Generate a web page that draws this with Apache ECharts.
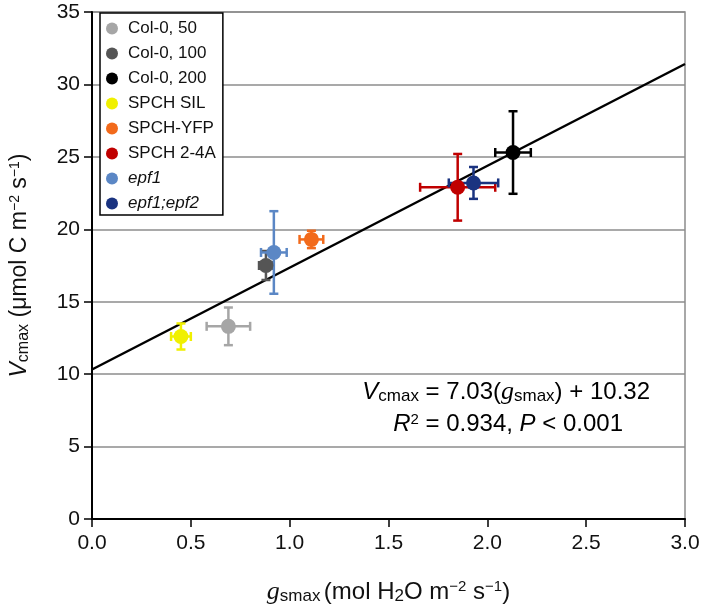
<!DOCTYPE html>
<html><head><meta charset="utf-8">
<script src="https://cdn.jsdelivr.net/npm/echarts@6/dist/echarts.min.js"></script>
<style>html,body{margin:0;padding:0;background:#fff}#c{width:709px;height:610px}</style>
</head><body><div id="c"></div>
<script>
const categories = ['Col-0, 50','Col-0, 100','Col-0, 200','SPCH SIL','SPCH-YFP','SPCH 2-4A','epf1','epf1;epf2'];
const gsmax = [0.69, 0.88, 2.13, 0.45, 1.11, 1.85, 0.92, 1.93];
const vcmax = [13.3, 17.5, 25.3, 12.6, 19.3, 22.9, 18.4, 23.2];
const gsErr = [0.11, 0.035, 0.09, 0.05, 0.06, 0.19, 0.065, 0.125];
const vcErr = [1.3, 1.0, 2.85, 0.9, 0.6, 2.3, 2.85, 1.1];
const fitSlope = 7.03;
const fitIntercept = 10.32;
const fitRange = [0, 3];
const xTicks = [0, 0.5, 1.0, 1.5, 2.0, 2.5, 3.0];
const yTicks = [0, 5, 10, 15, 20, 25, 30, 35];
const colors = ['#a6a6a6','#555555','#000000','#f0f000','#f26a1b','#c00000','#5b87c5','#1a3380'];

const FONT = 'Liberation Sans, Arial, sans-serif';
const SERIF = 'Liberation Serif, Times New Roman, serif';
const chart = echarts.init(document.getElementById('c'), null, {renderer:'canvas'});

const errData = gsmax.map((x,i)=>[x, vcmax[i], gsErr[i], vcErr[i], i]);

const series = [];
series.push({
  type:'line', name:'fit', silent:true, symbol:'none', z:3,
  data: fitRange.map(x=>[x, fitSlope*x + fitIntercept]),
  lineStyle:{color:'#000', width:2.5}
});
series.push({
  type:'custom', name:'err', silent:true, z:4,
  data: errData,
  renderItem(params, api){
    const x=api.value(0), y=api.value(1), ex=api.value(2), ey=api.value(3), idx=api.value(4);
    const col = colors[idx];
    const l=api.coord([x-ex,y]), r=api.coord([x+ex,y]), t=api.coord([x,y+ey]), b=api.coord([x,y-ey]);
    const cap=4.5;
    const st={stroke:col, lineWidth:2.5};
    const ln=(x1,y1,x2,y2)=>({type:'line', shape:{x1,y1,x2,y2}, style:st});
    return {type:'group', children:[
      ln(l[0],l[1],r[0],r[1]),
      ln(t[0],t[1],b[0],b[1]),
      ln(l[0],l[1]-cap,l[0],l[1]+cap),
      ln(r[0],r[1]-cap,r[0],r[1]+cap),
      ln(t[0]-cap,t[1],t[0]+cap,t[1]),
      ln(b[0]-cap,b[1],b[0]+cap,b[1])
    ]};
  }
});
categories.forEach((name,i)=>{
  series.push({
    type:'scatter', name, z:5, symbol:'circle', symbolSize:15,
    itemStyle:{color:colors[i], opacity:1},
    data:[[gsmax[i], vcmax[i]]]
  });
});

function richSet(base){
  return {
    i:{fontFamily:FONT, fontStyle:'italic', fontSize:base, color:'#111'},
    g:{fontFamily:SERIF, fontStyle:'italic', fontSize:base+2, color:'#111'},
    n:{fontFamily:FONT, fontSize:base, color:'#111'},
    sub:{fontFamily:FONT, fontSize:Math.round(base*0.7), color:'#111', verticalAlign:'bottom', padding:[Math.round(base*0.35),0,0,0]},
    sup:{fontFamily:FONT, fontSize:Math.round(base*0.62), color:'#111', verticalAlign:'top', padding:[0,0,Math.round(base*0.35),0]}
  };
}

chart.setOption({
  animation:false,
  backgroundColor:'#fff',
  grid:{left:91, right:24, top:12, bottom:88, show:true, borderColor:'#8c8c8c', borderWidth:1.5},
  legend:{
    data:categories, orient:'vertical', left:100, top:13,
    padding:[7,7,3,6], itemGap:8, itemWidth:12, itemHeight:12, icon:'circle',
    backgroundColor:'#fff', borderColor:'#000', borderWidth:1.5, z:10,
    formatter: n => n.startsWith('epf') ? '{it|'+n+'}' : n,
    textStyle:{fontFamily:FONT, fontSize:17, lineHeight:17, color:'#111', padding:[0,0,0,5],
      rich:{it:{fontFamily:FONT, fontSize:17, lineHeight:17, fontStyle:'italic', color:'#111'}}}
  },
  xAxis:{
    type:'value', min:fitRange[0], max:fitRange[1], interval:0.5,
    axisLine:{show:true, onZero:false, lineStyle:{color:'#000', width:2}},
    axisTick:{show:true, length:8, lineStyle:{color:'#000', width:1.5}},
    splitLine:{show:false},
    axisLabel:{fontFamily:FONT, fontSize:21, color:'#111', margin:14,
      formatter:v=> xTicks.some(t=>Math.abs(t-v)<1e-9) ? v.toFixed(1) : ''},
    name:'{g|g}{sub|smax} {n|(mol H}{sub|2}{n|O m}{sup|−2}{n| s}{sup|−1}{n|)}',
    nameLocation:'middle', nameGap:60,
    nameTextStyle:{rich:richSet(24)}
  },
  yAxis:{
    type:'value', min:0, max:35, interval:5,
    axisLine:{show:true, lineStyle:{color:'#000', width:2}},
    axisTick:{show:true, length:8, lineStyle:{color:'#000', width:1.5}},
    splitLine:{show:true, lineStyle:{color:'#8c8c8c', width:1.5}},
    axisLabel:{fontFamily:FONT, fontSize:21, color:'#111', margin:12,
      formatter:v=> yTicks.includes(v) ? String(v) : ''},
    name:'{i|V}{sub|cmax}{n| (μmol C m}{sup|−2}{n| s}{sup|−1}{n|)}',
    nameLocation:'middle', nameGap:60, nameRotate:90,
    nameTextStyle:{rich:richSet(23)}
  },
  graphic:[
    {type:'text', right:59, top:379, z:20,
     style:{text:'{i|V}{sub|cmax}{n| = 7.03(}{g|g}{sub|smax}{n|) + 10.32}', rich:richSet(24)}},
    {type:'text', right:86, top:412, z:20,
     style:{text:'{i|R}{sup|2}{n| = 0.934, }{i|P}{n| < 0.001}', rich:richSet(24)}}
  ],
  series
});
</script></body></html>
